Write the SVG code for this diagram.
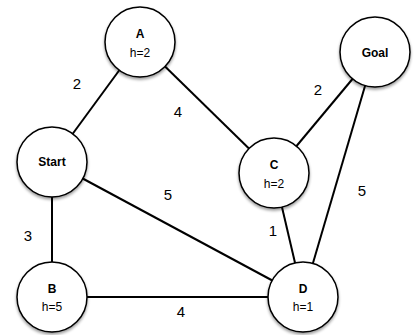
<svg xmlns="http://www.w3.org/2000/svg" width="417" height="335" viewBox="0 0 417 335">
<defs>
<filter id="sh" x="-30%" y="-30%" width="160%" height="160%">
<feGaussianBlur in="SourceAlpha" stdDeviation="1.5"/>
<feOffset dx="0" dy="2" result="b"/>
<feComponentTransfer><feFuncA type="linear" slope="0.4"/></feComponentTransfer>
<feMerge><feMergeNode/><feMergeNode in="SourceGraphic"/></feMerge>
</filter>
</defs>
<style>
.n circle{fill:#fff;stroke:#000;stroke-width:1.5;filter:url(#sh)}
.t{font-family:"Liberation Sans",Arial,sans-serif;font-weight:bold;font-size:12px;text-anchor:middle}
.h{font-family:"Liberation Sans",Arial,sans-serif;font-size:12px;text-anchor:middle}
.e line{stroke:#000;stroke-width:2}
.w{font-family:"Liberation Sans",Arial,sans-serif;font-size:15px;text-anchor:middle}
</style>
<rect width="417" height="335" fill="#fff"/>
<g id="edges" class="e">
<line x1="52" y1="162" x2="140" y2="42"/>
<line x1="140" y1="42" x2="274" y2="173"/>
<line x1="274" y1="173" x2="375" y2="52"/>
<line x1="375" y1="52" x2="303" y2="297"/>
<line x1="274" y1="173" x2="303" y2="297"/>
<line x1="52" y1="162" x2="303" y2="297"/>
<line x1="52" y1="162" x2="52" y2="297"/>
<line x1="52" y1="297" x2="303" y2="297"/>
</g>
<g id="weights">
<text class="w" x="77" y="89">2</text>
<text class="w" x="178" y="117">4</text>
<text class="w" x="318" y="95">2</text>
<text class="w" x="168" y="200">5</text>
<text class="w" x="362" y="196">5</text>
<text class="w" x="28" y="241">3</text>
<text class="w" x="273" y="236">1</text>
<text class="w" x="181" y="317">4</text>
</g>
<g id="A" class="n"><circle cx="140" cy="42" r="35"/><text class="t" x="140" y="38">A</text><text class="h" x="140" y="57">h=2</text></g>
<g id="Goal" class="n"><circle cx="375" cy="52" r="35"/><text class="t" x="375" y="57">Goal</text></g>
<g id="Start" class="n"><circle cx="52" cy="162" r="35"/><text class="t" x="52" y="166">Start</text></g>
<g id="C" class="n"><circle cx="274" cy="173" r="35"/><text class="t" x="274" y="169">C</text><text class="h" x="274" y="188">h=2</text></g>
<g id="B" class="n"><circle cx="52" cy="297" r="35"/><text class="t" x="52" y="293">B</text><text class="h" x="52" y="311">h=5</text></g>
<g id="D" class="n"><circle cx="303" cy="297" r="35"/><text class="t" x="303" y="293">D</text><text class="h" x="303" y="311">h=1</text></g>
</svg>
